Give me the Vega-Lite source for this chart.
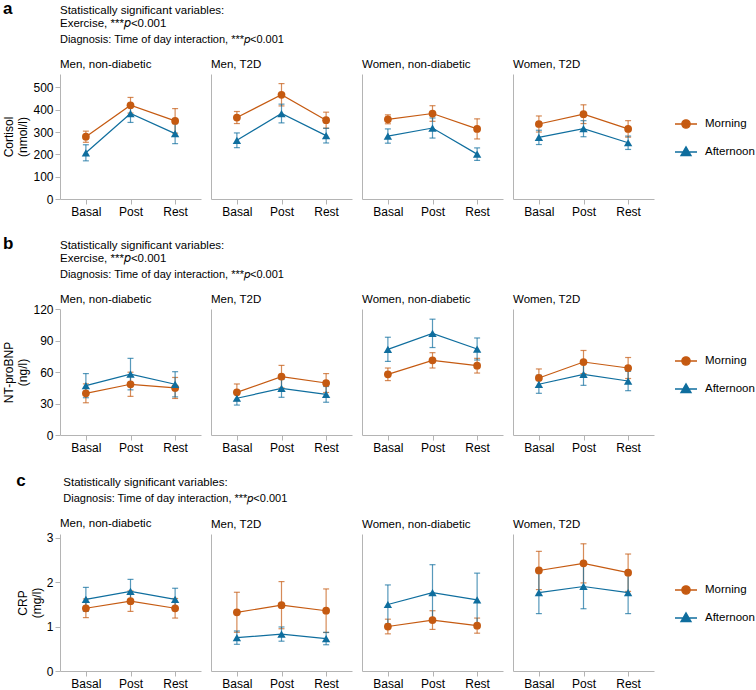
{
"$schema": "https://vega.github.io/schema/vega-lite/v6.json",
"padding": {"left": 2, "top": 0, "right": 2, "bottom": 1},
"background": "white",
"config": {
  "view": {"stroke": null},
  "font": "Liberation Sans",
  "axis": {"domainColor": "#b4b4b4", "tickColor": "#b4b4b4", "labelColor": "#000", "labelFont": "Liberation Sans", "labelFontSize": 12, "titleFont": "Liberation Sans", "titleFontSize": 12, "titleFontWeight": "normal", "titleColor": "#000", "grid": false, "tickSize": 5},
  "title": {"anchor": "start", "frame": "group", "fontSize": 11.5, "fontWeight": "normal", "font": "Liberation Sans", "offset": 4, "color": "#000"},
  "legend": {"title": null, "orient": "none", "symbolSize": 484, "rowPadding": 9, "labelFontSize": 11.5, "labelFont": "Liberation Sans", "labelColor": "#000", "labelOffset": 7, "symbolOpacity": 1, "symbolStrokeWidth": 1.3},
  "concat": {"spacing": 10}
},
"datasets": {"d": [
{"row":"a","panel":"Men, non-diabetic","tod":"Morning","time":"Basal","mean":279,"lo":254,"hi":304},
{"row":"a","panel":"Men, non-diabetic","tod":"Morning","time":"Post","mean":420,"lo":385,"hi":455},
{"row":"a","panel":"Men, non-diabetic","tod":"Morning","time":"Rest","mean":350,"lo":295,"hi":405},
{"row":"a","panel":"Men, non-diabetic","tod":"Afternoon","time":"Basal","mean":207,"lo":171,"hi":243},
{"row":"a","panel":"Men, non-diabetic","tod":"Afternoon","time":"Post","mean":383,"lo":343,"hi":423},
{"row":"a","panel":"Men, non-diabetic","tod":"Afternoon","time":"Rest","mean":293,"lo":248,"hi":338},
{"row":"a","panel":"Men, T2D","tod":"Morning","time":"Basal","mean":365,"lo":338,"hi":392},
{"row":"a","panel":"Men, T2D","tod":"Morning","time":"Post","mean":467,"lo":417,"hi":517},
{"row":"a","panel":"Men, T2D","tod":"Morning","time":"Rest","mean":353,"lo":317,"hi":389},
{"row":"a","panel":"Men, T2D","tod":"Afternoon","time":"Basal","mean":263,"lo":230,"hi":296},
{"row":"a","panel":"Men, T2D","tod":"Afternoon","time":"Post","mean":383,"lo":341,"hi":425},
{"row":"a","panel":"Men, T2D","tod":"Afternoon","time":"Rest","mean":284,"lo":251,"hi":317},
{"row":"a","panel":"Women, non-diabetic","tod":"Morning","time":"Basal","mean":357,"lo":337,"hi":377},
{"row":"a","panel":"Women, non-diabetic","tod":"Morning","time":"Post","mean":383,"lo":348,"hi":418},
{"row":"a","panel":"Women, non-diabetic","tod":"Morning","time":"Rest","mean":314,"lo":269,"hi":359},
{"row":"a","panel":"Women, non-diabetic","tod":"Afternoon","time":"Basal","mean":282,"lo":250,"hi":314},
{"row":"a","panel":"Women, non-diabetic","tod":"Afternoon","time":"Post","mean":318,"lo":273,"hi":363},
{"row":"a","panel":"Women, non-diabetic","tod":"Afternoon","time":"Rest","mean":201,"lo":173,"hi":229},
{"row":"a","panel":"Women, T2D","tod":"Morning","time":"Basal","mean":336,"lo":300,"hi":372},
{"row":"a","panel":"Women, T2D","tod":"Morning","time":"Post","mean":380,"lo":338,"hi":422},
{"row":"a","panel":"Women, T2D","tod":"Morning","time":"Rest","mean":314,"lo":277,"hi":351},
{"row":"a","panel":"Women, T2D","tod":"Afternoon","time":"Basal","mean":276,"lo":244,"hi":308},
{"row":"a","panel":"Women, T2D","tod":"Afternoon","time":"Post","mean":315,"lo":279,"hi":351},
{"row":"a","panel":"Women, T2D","tod":"Afternoon","time":"Rest","mean":252,"lo":222,"hi":282},
{"row":"b","panel":"Men, non-diabetic","tod":"Morning","time":"Basal","mean":39.7,"lo":30.7,"hi":48.7},
{"row":"b","panel":"Men, non-diabetic","tod":"Morning","time":"Post","mean":48.3,"lo":36.8,"hi":59.8},
{"row":"b","panel":"Men, non-diabetic","tod":"Morning","time":"Rest","mean":44.8,"lo":34.8,"hi":54.8},
{"row":"b","panel":"Men, non-diabetic","tod":"Afternoon","time":"Basal","mean":47,"lo":35.5,"hi":58.5},
{"row":"b","panel":"Men, non-diabetic","tod":"Afternoon","time":"Post","mean":58,"lo":43,"hi":73},
{"row":"b","panel":"Men, non-diabetic","tod":"Afternoon","time":"Rest","mean":48.3,"lo":36.3,"hi":60.3},
{"row":"b","panel":"Men, T2D","tod":"Morning","time":"Basal","mean":40.6,"lo":32.6,"hi":48.6},
{"row":"b","panel":"Men, T2D","tod":"Morning","time":"Post","mean":55.6,"lo":44.9,"hi":66.3},
{"row":"b","panel":"Men, T2D","tod":"Morning","time":"Rest","mean":49.5,"lo":40.5,"hi":58.5},
{"row":"b","panel":"Men, T2D","tod":"Afternoon","time":"Basal","mean":35,"lo":28.5,"hi":41.5},
{"row":"b","panel":"Men, T2D","tod":"Afternoon","time":"Post","mean":44.4,"lo":35.9,"hi":52.9},
{"row":"b","panel":"Men, T2D","tod":"Afternoon","time":"Rest","mean":38.7,"lo":31.2,"hi":46.2},
{"row":"b","panel":"Women, non-diabetic","tod":"Morning","time":"Basal","mean":57.8,"lo":51.8,"hi":63.8},
{"row":"b","panel":"Women, non-diabetic","tod":"Morning","time":"Post","mean":71.1,"lo":63.8,"hi":78.4},
{"row":"b","panel":"Women, non-diabetic","tod":"Morning","time":"Rest","mean":66,"lo":59,"hi":73},
{"row":"b","panel":"Women, non-diabetic","tod":"Afternoon","time":"Basal","mean":81.6,"lo":70.1,"hi":93.1},
{"row":"b","panel":"Women, non-diabetic","tod":"Afternoon","time":"Post","mean":96.8,"lo":83.3,"hi":110.3},
{"row":"b","panel":"Women, non-diabetic","tod":"Afternoon","time":"Rest","mean":81.9,"lo":71.4,"hi":92.4},
{"row":"b","panel":"Women, T2D","tod":"Morning","time":"Basal","mean":54.3,"lo":45.7,"hi":62.9},
{"row":"b","panel":"Women, T2D","tod":"Morning","time":"Post","mean":69.5,"lo":58.5,"hi":80.5},
{"row":"b","panel":"Women, T2D","tod":"Morning","time":"Rest","mean":63.8,"lo":53.8,"hi":73.8},
{"row":"b","panel":"Women, T2D","tod":"Afternoon","time":"Basal","mean":48.3,"lo":39.7,"hi":56.9},
{"row":"b","panel":"Women, T2D","tod":"Afternoon","time":"Post","mean":57.8,"lo":47.3,"hi":68.3},
{"row":"b","panel":"Women, T2D","tod":"Afternoon","time":"Rest","mean":51.4,"lo":42.2,"hi":60.6},
{"row":"c","panel":"Men, non-diabetic","tod":"Morning","time":"Basal","mean":1.41,"lo":1.2,"hi":1.62},
{"row":"c","panel":"Men, non-diabetic","tod":"Morning","time":"Post","mean":1.57,"lo":1.34,"hi":1.8},
{"row":"c","panel":"Men, non-diabetic","tod":"Morning","time":"Rest","mean":1.41,"lo":1.19,"hi":1.63},
{"row":"c","panel":"Men, non-diabetic","tod":"Afternoon","time":"Basal","mean":1.61,"lo":1.34,"hi":1.88},
{"row":"c","panel":"Men, non-diabetic","tod":"Afternoon","time":"Post","mean":1.79,"lo":1.52,"hi":2.06},
{"row":"c","panel":"Men, non-diabetic","tod":"Afternoon","time":"Rest","mean":1.61,"lo":1.36,"hi":1.86},
{"row":"c","panel":"Men, T2D","tod":"Morning","time":"Basal","mean":1.32,"lo":0.87,"hi":1.77},
{"row":"c","panel":"Men, T2D","tod":"Morning","time":"Post","mean":1.48,"lo":0.95,"hi":2.01},
{"row":"c","panel":"Men, T2D","tod":"Morning","time":"Rest","mean":1.355,"lo":0.865,"hi":1.845},
{"row":"c","panel":"Men, T2D","tod":"Afternoon","time":"Basal","mean":0.75,"lo":0.6,"hi":0.9},
{"row":"c","panel":"Men, T2D","tod":"Afternoon","time":"Post","mean":0.83,"lo":0.67,"hi":0.99},
{"row":"c","panel":"Men, T2D","tod":"Afternoon","time":"Rest","mean":0.73,"lo":0.59,"hi":0.87},
{"row":"c","panel":"Women, non-diabetic","tod":"Morning","time":"Basal","mean":1.0,"lo":0.835,"hi":1.165},
{"row":"c","panel":"Women, non-diabetic","tod":"Morning","time":"Post","mean":1.145,"lo":0.935,"hi":1.355},
{"row":"c","panel":"Women, non-diabetic","tod":"Morning","time":"Rest","mean":1.02,"lo":0.85,"hi":1.19},
{"row":"c","panel":"Women, non-diabetic","tod":"Afternoon","time":"Basal","mean":1.495,"lo":1.055,"hi":1.935},
{"row":"c","panel":"Women, non-diabetic","tod":"Afternoon","time":"Post","mean":1.76,"lo":1.13,"hi":2.39},
{"row":"c","panel":"Women, non-diabetic","tod":"Afternoon","time":"Rest","mean":1.6,"lo":1.0,"hi":2.2},
{"row":"c","panel":"Women, T2D","tod":"Morning","time":"Basal","mean":2.26,"lo":1.83,"hi":2.69},
{"row":"c","panel":"Women, T2D","tod":"Morning","time":"Post","mean":2.42,"lo":1.98,"hi":2.86},
{"row":"c","panel":"Women, T2D","tod":"Morning","time":"Rest","mean":2.21,"lo":1.79,"hi":2.63},
{"row":"c","panel":"Women, T2D","tod":"Afternoon","time":"Basal","mean":1.76,"lo":1.29,"hi":2.23},
{"row":"c","panel":"Women, T2D","tod":"Afternoon","time":"Post","mean":1.9,"lo":1.4,"hi":2.4},
{"row":"c","panel":"Women, T2D","tod":"Afternoon","time":"Rest","mean":1.76,"lo":1.29,"hi":2.23}
]},
"data": {"name": "d"},
"spacing": 18,
"vconcat": [
{
 "title": {"text": "a", "fontSize": 17, "fontWeight": "bold", "anchor": "start", "frame": "bounds", "offset": -13},
 "vconcat": [{
  "title": {"text": ["Statistically significant variables:", "Exercise, ***𝑝<0.001"], "subtitle": "Diagnosis: Time of day interaction, ***𝑝<0.001", "anchor": "start", "frame": "bounds", "dx": 57, "fontSize": 11.5, "lineHeight": 13, "subtitleFontSize": 11, "subtitleFont": "Liberation Sans", "subtitleColor": "#000", "subtitlePadding": 4, "offset": 14},
  "resolve": {"scale": {"color": "independent"}},
  "hconcat": [
   {"width": 141, "height": 125, "title": {"text": "Men, non-diabetic", "offset": 4},
    "transform": [{"filter": "datum.row === 'a' && datum.panel === 'Men, non-diabetic'"}],
    "encoding": {
     "x": {"field": "time", "type": "nominal", "sort": ["Basal","Post","Rest"], "scale": {"type": "point", "padding": 0.58}, "axis": {"title": null, "labelAngle": 0}},
     "y": {"field": "mean", "type": "quantitative", "scale": {"domain": [0,560], "nice": false}, "axis": {"title": ["Cortisol","(nmol/l)"], "values": [0,100,200,300,400,500], "titlePadding": 3}},
     "color": {"field": "tod", "type": "nominal", "scale": {"domain": ["Morning","Afternoon"], "range": ["#c55a11","#0f6e9e"]}, "legend": null}
    },
    "layer": [
     {"mark": {"type": "errorbar", "ticks": {"size": 6}, "opacity": 0.7, "thickness": 1.2}, "encoding": {"y": {"field": "lo", "type": "quantitative", "scale": {"domain": [0,560], "nice": false}, "axis": {"title": ["Cortisol","(nmol/l)"], "values": [0,100,200,300,400,500], "titlePadding": 3}}, "y2": {"field": "hi"}}},
     {"mark": {"type": "line", "strokeWidth": 1.2}, "encoding": {}},
     {"transform": [{"filter": "datum.tod === 'Morning'"}], "mark": {"type": "point", "filled": true, "size": 60, "opacity": 1, "shape": "circle"}, "encoding": {}},
     {"transform": [{"filter": "datum.tod === 'Afternoon'"}], "mark": {"type": "point", "filled": true, "size": 70, "opacity": 1, "shape": "triangle-up"}, "encoding": {}}
    ]},
   {"width": 141, "height": 125, "title": "Men, T2D",
    "transform": [{"filter": "datum.row === 'a' && datum.panel === 'Men, T2D'"}],
    "encoding": {
     "x": {"field": "time", "type": "nominal", "sort": ["Basal","Post","Rest"], "scale": {"type": "point", "padding": 0.58}, "axis": {"title": null, "labelAngle": 0}},
     "y": {"field": "mean", "type": "quantitative", "scale": {"domain": [0,560], "nice": false}, "axis": {"title": null, "labels": false, "ticks": false}},
     "color": {"field": "tod", "type": "nominal", "scale": {"domain": ["Morning","Afternoon"], "range": ["#c55a11","#0f6e9e"]}, "legend": null}
    },
    "layer": [
     {"mark": {"type": "errorbar", "ticks": {"size": 6}, "opacity": 0.7, "thickness": 1.2}, "encoding": {"y": {"field": "lo", "type": "quantitative", "scale": {"domain": [0,560], "nice": false}, "axis": {"title": null, "labels": false, "ticks": false}}, "y2": {"field": "hi"}}},
     {"mark": {"type": "line", "strokeWidth": 1.2}, "encoding": {}},
     {"transform": [{"filter": "datum.tod === 'Morning'"}], "mark": {"type": "point", "filled": true, "size": 60, "opacity": 1, "shape": "circle"}, "encoding": {}},
     {"transform": [{"filter": "datum.tod === 'Afternoon'"}], "mark": {"type": "point", "filled": true, "size": 70, "opacity": 1, "shape": "triangle-up"}, "encoding": {}}
    ]},
   {"width": 141, "height": 125, "title": "Women, non-diabetic",
    "transform": [{"filter": "datum.row === 'a' && datum.panel === 'Women, non-diabetic'"}],
    "encoding": {
     "x": {"field": "time", "type": "nominal", "sort": ["Basal","Post","Rest"], "scale": {"type": "point", "padding": 0.58}, "axis": {"title": null, "labelAngle": 0}},
     "y": {"field": "mean", "type": "quantitative", "scale": {"domain": [0,560], "nice": false}, "axis": {"title": null, "labels": false, "ticks": false}},
     "color": {"field": "tod", "type": "nominal", "scale": {"domain": ["Morning","Afternoon"], "range": ["#c55a11","#0f6e9e"]}, "legend": null}
    },
    "layer": [
     {"mark": {"type": "errorbar", "ticks": {"size": 6}, "opacity": 0.7, "thickness": 1.2}, "encoding": {"y": {"field": "lo", "type": "quantitative", "scale": {"domain": [0,560], "nice": false}, "axis": {"title": null, "labels": false, "ticks": false}}, "y2": {"field": "hi"}}},
     {"mark": {"type": "line", "strokeWidth": 1.2}, "encoding": {}},
     {"transform": [{"filter": "datum.tod === 'Morning'"}], "mark": {"type": "point", "filled": true, "size": 60, "opacity": 1, "shape": "circle"}, "encoding": {}},
     {"transform": [{"filter": "datum.tod === 'Afternoon'"}], "mark": {"type": "point", "filled": true, "size": 70, "opacity": 1, "shape": "triangle-up"}, "encoding": {}}
    ]},
   {"width": 141, "height": 125, "title": "Women, T2D",
    "transform": [{"filter": "datum.row === 'a' && datum.panel === 'Women, T2D'"}],
    "encoding": {
     "x": {"field": "time", "type": "nominal", "sort": ["Basal","Post","Rest"], "scale": {"type": "point", "padding": 0.58}, "axis": {"title": null, "labelAngle": 0}},
     "y": {"field": "mean", "type": "quantitative", "scale": {"domain": [0,560], "nice": false}, "axis": {"title": null, "labels": false, "ticks": false}},
     "color": {"field": "tod", "type": "nominal", "scale": {"domain": ["Morning","Afternoon"], "range": ["#c55a11","#0f6e9e"]},
      "legend": {"legendX": 161, "legendY": 38,
       "encode": {"symbols": {"update": {"shape": {"signal": "datum.value === 'Morning' ? 'M-1,0L1,0M-0.38,0A0.38,0.38,0,1,1,0.38,0A0.38,0.38,0,1,1,-0.38,0Z' : 'M-1,0L1,0M-0.46,0.32L0.46,0.32L0,-0.48Z'"}, "strokeWidth": {"value": 1.3}}}}}}
    },
    "layer": [
     {"mark": {"type": "errorbar", "ticks": {"size": 6}, "opacity": 0.7, "thickness": 1.2}, "encoding": {"y": {"field": "lo", "type": "quantitative", "scale": {"domain": [0,560], "nice": false}, "axis": {"title": null, "labels": false, "ticks": false}}, "y2": {"field": "hi"}}},
     {"mark": {"type": "line", "strokeWidth": 1.2}, "encoding": {}},
     {"transform": [{"filter": "datum.tod === 'Morning'"}], "mark": {"type": "point", "filled": true, "size": 60, "opacity": 1, "shape": "circle"}, "encoding": {}},
     {"transform": [{"filter": "datum.tod === 'Afternoon'"}], "mark": {"type": "point", "filled": true, "size": 70, "opacity": 1, "shape": "triangle-up"}, "encoding": {}}
    ]}
  ]
 }]
},
{
 "title": {"text": "b", "fontSize": 17, "fontWeight": "bold", "anchor": "start", "frame": "bounds", "offset": -13},
 "vconcat": [{
  "title": {"text": ["Statistically significant variables:", "Exercise, ***𝑝<0.001"], "subtitle": "Diagnosis: Time of day interaction, ***𝑝<0.001", "anchor": "start", "frame": "bounds", "dx": 57, "fontSize": 11.5, "lineHeight": 13, "subtitleFontSize": 11, "subtitleFont": "Liberation Sans", "subtitleColor": "#000", "subtitlePadding": 4, "offset": 14},
  "resolve": {"scale": {"color": "independent"}},
  "hconcat": [
   {"width": 141, "height": 126, "title": {"text": "Men, non-diabetic", "offset": -2},
    "transform": [{"filter": "datum.row === 'b' && datum.panel === 'Men, non-diabetic'"}],
    "encoding": {
     "x": {"field": "time", "type": "nominal", "sort": ["Basal","Post","Rest"], "scale": {"type": "point", "padding": 0.58}, "axis": {"title": null, "labelAngle": 0}},
     "y": {"field": "mean", "type": "quantitative", "scale": {"domain": [0,120], "nice": false}, "axis": {"title": ["NT-proBNP","(ng/l)"], "values": [0,30,60,90,120], "titlePadding": 3}},
     "color": {"field": "tod", "type": "nominal", "scale": {"domain": ["Morning","Afternoon"], "range": ["#c55a11","#0f6e9e"]}, "legend": null}
    },
    "layer": [
     {"mark": {"type": "errorbar", "ticks": {"size": 6}, "opacity": 0.7, "thickness": 1.2}, "encoding": {"y": {"field": "lo", "type": "quantitative", "scale": {"domain": [0,120], "nice": false}, "axis": {"title": ["NT-proBNP","(ng/l)"], "values": [0,30,60,90,120], "titlePadding": 3}}, "y2": {"field": "hi"}}},
     {"mark": {"type": "line", "strokeWidth": 1.2}, "encoding": {}},
     {"transform": [{"filter": "datum.tod === 'Morning'"}], "mark": {"type": "point", "filled": true, "size": 60, "opacity": 1, "shape": "circle"}, "encoding": {}},
     {"transform": [{"filter": "datum.tod === 'Afternoon'"}], "mark": {"type": "point", "filled": true, "size": 70, "opacity": 1, "shape": "triangle-up"}, "encoding": {}}
    ]},
   {"width": 141, "height": 126, "title": "Men, T2D",
    "transform": [{"filter": "datum.row === 'b' && datum.panel === 'Men, T2D'"}],
    "encoding": {
     "x": {"field": "time", "type": "nominal", "sort": ["Basal","Post","Rest"], "scale": {"type": "point", "padding": 0.58}, "axis": {"title": null, "labelAngle": 0}},
     "y": {"field": "mean", "type": "quantitative", "scale": {"domain": [0,120], "nice": false}, "axis": {"title": null, "labels": false, "ticks": false}},
     "color": {"field": "tod", "type": "nominal", "scale": {"domain": ["Morning","Afternoon"], "range": ["#c55a11","#0f6e9e"]}, "legend": null}
    },
    "layer": [
     {"mark": {"type": "errorbar", "ticks": {"size": 6}, "opacity": 0.7, "thickness": 1.2}, "encoding": {"y": {"field": "lo", "type": "quantitative", "scale": {"domain": [0,120], "nice": false}, "axis": {"title": null, "labels": false, "ticks": false}}, "y2": {"field": "hi"}}},
     {"mark": {"type": "line", "strokeWidth": 1.2}, "encoding": {}},
     {"transform": [{"filter": "datum.tod === 'Morning'"}], "mark": {"type": "point", "filled": true, "size": 60, "opacity": 1, "shape": "circle"}, "encoding": {}},
     {"transform": [{"filter": "datum.tod === 'Afternoon'"}], "mark": {"type": "point", "filled": true, "size": 70, "opacity": 1, "shape": "triangle-up"}, "encoding": {}}
    ]},
   {"width": 141, "height": 126, "title": "Women, non-diabetic",
    "transform": [{"filter": "datum.row === 'b' && datum.panel === 'Women, non-diabetic'"}],
    "encoding": {
     "x": {"field": "time", "type": "nominal", "sort": ["Basal","Post","Rest"], "scale": {"type": "point", "padding": 0.58}, "axis": {"title": null, "labelAngle": 0}},
     "y": {"field": "mean", "type": "quantitative", "scale": {"domain": [0,120], "nice": false}, "axis": {"title": null, "labels": false, "ticks": false}},
     "color": {"field": "tod", "type": "nominal", "scale": {"domain": ["Morning","Afternoon"], "range": ["#c55a11","#0f6e9e"]}, "legend": null}
    },
    "layer": [
     {"mark": {"type": "errorbar", "ticks": {"size": 6}, "opacity": 0.7, "thickness": 1.2}, "encoding": {"y": {"field": "lo", "type": "quantitative", "scale": {"domain": [0,120], "nice": false}, "axis": {"title": null, "labels": false, "ticks": false}}, "y2": {"field": "hi"}}},
     {"mark": {"type": "line", "strokeWidth": 1.2}, "encoding": {}},
     {"transform": [{"filter": "datum.tod === 'Morning'"}], "mark": {"type": "point", "filled": true, "size": 60, "opacity": 1, "shape": "circle"}, "encoding": {}},
     {"transform": [{"filter": "datum.tod === 'Afternoon'"}], "mark": {"type": "point", "filled": true, "size": 70, "opacity": 1, "shape": "triangle-up"}, "encoding": {}}
    ]},
   {"width": 141, "height": 126, "title": "Women, T2D",
    "transform": [{"filter": "datum.row === 'b' && datum.panel === 'Women, T2D'"}],
    "encoding": {
     "x": {"field": "time", "type": "nominal", "sort": ["Basal","Post","Rest"], "scale": {"type": "point", "padding": 0.58}, "axis": {"title": null, "labelAngle": 0}},
     "y": {"field": "mean", "type": "quantitative", "scale": {"domain": [0,120], "nice": false}, "axis": {"title": null, "labels": false, "ticks": false}},
     "color": {"field": "tod", "type": "nominal", "scale": {"domain": ["Morning","Afternoon"], "range": ["#c55a11","#0f6e9e"]},
      "legend": {"legendX": 161, "legendY": 40,
       "encode": {"symbols": {"update": {"shape": {"signal": "datum.value === 'Morning' ? 'M-1,0L1,0M-0.38,0A0.38,0.38,0,1,1,0.38,0A0.38,0.38,0,1,1,-0.38,0Z' : 'M-1,0L1,0M-0.46,0.32L0.46,0.32L0,-0.48Z'"}, "strokeWidth": {"value": 1.3}}}}}}
    },
    "layer": [
     {"mark": {"type": "errorbar", "ticks": {"size": 6}, "opacity": 0.7, "thickness": 1.2}, "encoding": {"y": {"field": "lo", "type": "quantitative", "scale": {"domain": [0,120], "nice": false}, "axis": {"title": null, "labels": false, "ticks": false}}, "y2": {"field": "hi"}}},
     {"mark": {"type": "line", "strokeWidth": 1.2}, "encoding": {}},
     {"transform": [{"filter": "datum.tod === 'Morning'"}], "mark": {"type": "point", "filled": true, "size": 60, "opacity": 1, "shape": "circle"}, "encoding": {}},
     {"transform": [{"filter": "datum.tod === 'Afternoon'"}], "mark": {"type": "point", "filled": true, "size": 70, "opacity": 1, "shape": "triangle-up"}, "encoding": {}}
    ]}
  ]
 }]
},
{
 "title": {"text": "c", "fontSize": 17, "fontWeight": "bold", "anchor": "start", "frame": "bounds", "offset": -13},
 "vconcat": [{
  "title": {"text": "Statistically significant variables:", "subtitle": "Diagnosis: Time of day interaction, ***𝑝<0.001", "anchor": "start", "frame": "bounds", "dx": 47, "fontSize": 11.5, "lineHeight": 13, "subtitleFontSize": 11, "subtitleFont": "Liberation Sans", "subtitleColor": "#000", "subtitlePadding": 5, "offset": 14},
  "resolve": {"scale": {"color": "independent"}},
  "hconcat": [
   {"width": 141, "height": 137, "title": {"text": "Men, non-diabetic", "offset": 2},
    "transform": [{"filter": "datum.row === 'c' && datum.panel === 'Men, non-diabetic'"}],
    "encoding": {
     "x": {"field": "time", "type": "nominal", "sort": ["Basal","Post","Rest"], "scale": {"type": "point", "padding": 0.58}, "axis": {"title": null, "labelAngle": 0}},
     "y": {"field": "mean", "type": "quantitative", "scale": {"domain": [0,3.08], "nice": false}, "axis": {"title": ["CRP","(mg/l)"], "values": [0,1,2,3], "titlePadding": 3}},
     "color": {"field": "tod", "type": "nominal", "scale": {"domain": ["Morning","Afternoon"], "range": ["#c55a11","#0f6e9e"]}, "legend": null}
    },
    "layer": [
     {"mark": {"type": "errorbar", "ticks": {"size": 6}, "opacity": 0.7, "thickness": 1.2}, "encoding": {"y": {"field": "lo", "type": "quantitative", "scale": {"domain": [0,3.08], "nice": false}, "axis": {"title": ["CRP","(mg/l)"], "values": [0,1,2,3], "titlePadding": 3}}, "y2": {"field": "hi"}}},
     {"mark": {"type": "line", "strokeWidth": 1.2}, "encoding": {}},
     {"transform": [{"filter": "datum.tod === 'Morning'"}], "mark": {"type": "point", "filled": true, "size": 60, "opacity": 1, "shape": "circle"}, "encoding": {}},
     {"transform": [{"filter": "datum.tod === 'Afternoon'"}], "mark": {"type": "point", "filled": true, "size": 70, "opacity": 1, "shape": "triangle-up"}, "encoding": {}}
    ]},
   {"width": 141, "height": 137, "title": "Men, T2D",
    "transform": [{"filter": "datum.row === 'c' && datum.panel === 'Men, T2D'"}],
    "encoding": {
     "x": {"field": "time", "type": "nominal", "sort": ["Basal","Post","Rest"], "scale": {"type": "point", "padding": 0.58}, "axis": {"title": null, "labelAngle": 0}},
     "y": {"field": "mean", "type": "quantitative", "scale": {"domain": [0,3.08], "nice": false}, "axis": {"title": null, "labels": false, "ticks": false}},
     "color": {"field": "tod", "type": "nominal", "scale": {"domain": ["Morning","Afternoon"], "range": ["#c55a11","#0f6e9e"]}, "legend": null}
    },
    "layer": [
     {"mark": {"type": "errorbar", "ticks": {"size": 6}, "opacity": 0.7, "thickness": 1.2}, "encoding": {"y": {"field": "lo", "type": "quantitative", "scale": {"domain": [0,3.08], "nice": false}, "axis": {"title": null, "labels": false, "ticks": false}}, "y2": {"field": "hi"}}},
     {"mark": {"type": "line", "strokeWidth": 1.2}, "encoding": {}},
     {"transform": [{"filter": "datum.tod === 'Morning'"}], "mark": {"type": "point", "filled": true, "size": 60, "opacity": 1, "shape": "circle"}, "encoding": {}},
     {"transform": [{"filter": "datum.tod === 'Afternoon'"}], "mark": {"type": "point", "filled": true, "size": 70, "opacity": 1, "shape": "triangle-up"}, "encoding": {}}
    ]},
   {"width": 141, "height": 137, "title": "Women, non-diabetic",
    "transform": [{"filter": "datum.row === 'c' && datum.panel === 'Women, non-diabetic'"}],
    "encoding": {
     "x": {"field": "time", "type": "nominal", "sort": ["Basal","Post","Rest"], "scale": {"type": "point", "padding": 0.58}, "axis": {"title": null, "labelAngle": 0}},
     "y": {"field": "mean", "type": "quantitative", "scale": {"domain": [0,3.08], "nice": false}, "axis": {"title": null, "labels": false, "ticks": false}},
     "color": {"field": "tod", "type": "nominal", "scale": {"domain": ["Morning","Afternoon"], "range": ["#c55a11","#0f6e9e"]}, "legend": null}
    },
    "layer": [
     {"mark": {"type": "errorbar", "ticks": {"size": 6}, "opacity": 0.7, "thickness": 1.2}, "encoding": {"y": {"field": "lo", "type": "quantitative", "scale": {"domain": [0,3.08], "nice": false}, "axis": {"title": null, "labels": false, "ticks": false}}, "y2": {"field": "hi"}}},
     {"mark": {"type": "line", "strokeWidth": 1.2}, "encoding": {}},
     {"transform": [{"filter": "datum.tod === 'Morning'"}], "mark": {"type": "point", "filled": true, "size": 60, "opacity": 1, "shape": "circle"}, "encoding": {}},
     {"transform": [{"filter": "datum.tod === 'Afternoon'"}], "mark": {"type": "point", "filled": true, "size": 70, "opacity": 1, "shape": "triangle-up"}, "encoding": {}}
    ]},
   {"width": 141, "height": 137, "title": "Women, T2D",
    "transform": [{"filter": "datum.row === 'c' && datum.panel === 'Women, T2D'"}],
    "encoding": {
     "x": {"field": "time", "type": "nominal", "sort": ["Basal","Post","Rest"], "scale": {"type": "point", "padding": 0.58}, "axis": {"title": null, "labelAngle": 0}},
     "y": {"field": "mean", "type": "quantitative", "scale": {"domain": [0,3.08], "nice": false}, "axis": {"title": null, "labels": false, "ticks": false}},
     "color": {"field": "tod", "type": "nominal", "scale": {"domain": ["Morning","Afternoon"], "range": ["#c55a11","#0f6e9e"]},
      "legend": {"legendX": 161, "legendY": 44,
       "encode": {"symbols": {"update": {"shape": {"signal": "datum.value === 'Morning' ? 'M-1,0L1,0M-0.38,0A0.38,0.38,0,1,1,0.38,0A0.38,0.38,0,1,1,-0.38,0Z' : 'M-1,0L1,0M-0.46,0.32L0.46,0.32L0,-0.48Z'"}, "strokeWidth": {"value": 1.3}}}}}}
    },
    "layer": [
     {"mark": {"type": "errorbar", "ticks": {"size": 6}, "opacity": 0.7, "thickness": 1.2}, "encoding": {"y": {"field": "lo", "type": "quantitative", "scale": {"domain": [0,3.08], "nice": false}, "axis": {"title": null, "labels": false, "ticks": false}}, "y2": {"field": "hi"}}},
     {"mark": {"type": "line", "strokeWidth": 1.2}, "encoding": {}},
     {"transform": [{"filter": "datum.tod === 'Morning'"}], "mark": {"type": "point", "filled": true, "size": 60, "opacity": 1, "shape": "circle"}, "encoding": {}},
     {"transform": [{"filter": "datum.tod === 'Afternoon'"}], "mark": {"type": "point", "filled": true, "size": 70, "opacity": 1, "shape": "triangle-up"}, "encoding": {}}
    ]}
  ]
 }]
}
]
}
